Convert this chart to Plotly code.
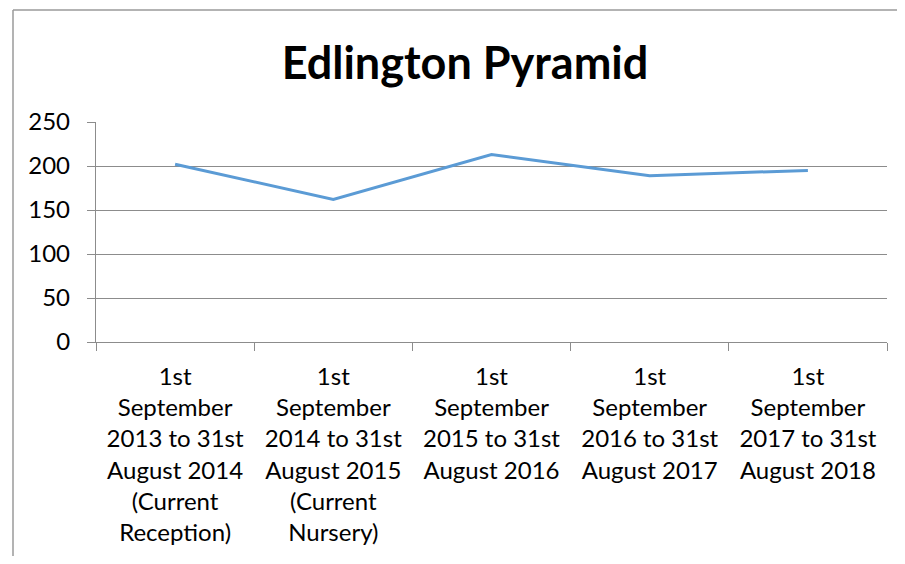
import plotly.graph_objects as go

categories = [
    "1st<br>September<br>2013 to 31st<br>August 2014<br>(Current<br>Reception)",
    "1st<br>September<br>2014 to 31st<br>August 2015<br>(Current<br>Nursery)",
    "1st<br>September<br>2015 to 31st<br>August 2016",
    "1st<br>September<br>2016 to 31st<br>August 2017",
    "1st<br>September<br>2017 to 31st<br>August 2018",
]
values = [202, 162, 213, 189, 195]
y_ticks = [0, 50, 100, 150, 200, 250]

FONT = "Lato, Roboto, Liberation Sans, sans-serif"
GRID = "#8c8c8c"

# page body has an 8px margin; compensate so the plot lands where the reference has it
OFF = 8
W, H = 905 - 2 * OFF, 564 - 2 * OFF
ml, mt = 96 - OFF, 122 - OFF
mr = W - (887 - OFF)
mb = H - (342 - OFF)
pw, ph = W - ml - mr, H - mt - mb

def px_to_paper_x(px):
    return (px - OFF - ml) / pw

def px_to_paper_y(py):
    return (H - mb - (py - OFF)) / ph

fig = go.Figure()
fig.add_trace(go.Scatter(
    x=categories, y=values, mode="lines",
    line=dict(color="#5B9BD5", width=3),
    hoverinfo="x+y", showlegend=False,
))

fig.update_layout(
    width=W, height=H,
    margin=dict(l=ml, r=mr, t=mt, b=mb),
    paper_bgcolor="white", plot_bgcolor="white",
    font=dict(family=FONT, size=24, color="#000000"),
    title=dict(
        text="<b>Edlington Pyramid</b>",
        x=(465 - OFF) / W, xanchor="center", y=1 - (63 - OFF) / H, yanchor="middle",
        font=dict(family=FONT, size=45, color="#000000"),
    ),
    xaxis=dict(
        type="category", tickson="boundaries",
        showgrid=False, showline=True, linecolor=GRID, linewidth=1.3,
        ticks="outside", ticklen=8, tickcolor=GRID, tickwidth=1.3,
        tickangle=0, tickfont=dict(size=24), ticklabelstandoff=13,
        range=[-0.5, 4.5], fixedrange=True,
    ),
    yaxis=dict(
        range=[0, 250], tickvals=y_ticks, ticktext=[str(v) for v in y_ticks],
        showgrid=True, gridcolor=GRID, gridwidth=1.3,
        showline=True, linecolor=GRID, linewidth=1.3,
        ticks="outside", ticklen=8, tickcolor=GRID, tickwidth=1.3,
        ticklabelstandoff=12, zeroline=False, tickfont=dict(size=24),
        fixedrange=True,
    ),
    shapes=[
        dict(type="line", xref="paper", yref="paper",
             x0=px_to_paper_x(13), x1=px_to_paper_x(13),
             y0=px_to_paper_y(10), y1=px_to_paper_y(OFF + H),
             line=dict(color="#9a9a9a", width=1.5)),
        dict(type="line", xref="paper", yref="paper",
             x0=px_to_paper_x(13), x1=px_to_paper_x(OFF + W),
             y0=px_to_paper_y(10), y1=px_to_paper_y(10),
             line=dict(color="#9a9a9a", width=1.5)),
    ],
)

fig.write_html("out.html")
